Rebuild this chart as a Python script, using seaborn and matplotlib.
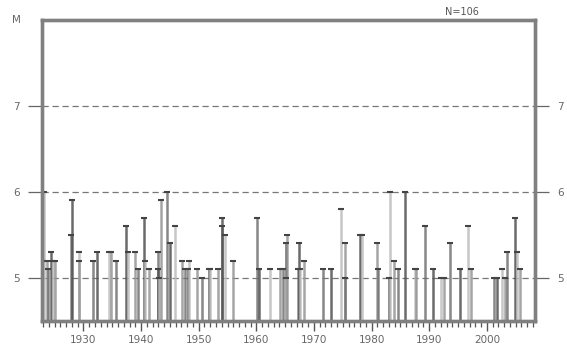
import numpy as np
import pandas as pd
import seaborn as sns
import matplotlib.pyplot as plt
from matplotlib.ticker import MultipleLocator

# events (decimal year, magnitude)
years = [1923.1, 1923.6, 1923.8, 1924.4, 1924.8, 1925.1, 1927.8, 1928.0,
         1929.2, 1929.3, 1931.7, 1932.4, 1934.4, 1934.8, 1935.6, 1937.3,
         1937.7, 1939.0, 1939.5, 1940.5, 1940.7, 1941.3, 1942.9, 1943.0,
         1943.1, 1943.5, 1944.5, 1945.0, 1945.8, 1947.1, 1947.6, 1948.2,
         1948.3, 1949.7, 1950.6, 1951.7, 1952.0, 1953.4, 1954.0, 1954.1,
         1954.6, 1956.0, 1960.1, 1960.5, 1962.4, 1964.1, 1964.6, 1965.1,
         1965.2, 1965.4, 1967.3, 1967.4, 1967.6, 1968.3, 1971.6, 1973.0,
         1974.7, 1975.3, 1975.4, 1978.0, 1978.3, 1980.9, 1981.1, 1983.0,
         1983.2, 1983.9, 1984.5, 1985.8, 1987.5, 1987.7, 1989.3, 1990.7,
         1992.1, 1992.5, 1993.6, 1995.4, 1996.8, 1997.3, 2001.3, 2001.7,
         2002.6, 2003.2, 2003.5, 2004.9, 2005.2, 2005.8]
mags = [6.0, 5.2, 5.1, 5.3, 5.2, 5.2, 5.5, 5.9,
        5.3, 5.2, 5.2, 5.3, 5.3, 5.3, 5.2, 5.6,
        5.3, 5.3, 5.1, 5.7, 5.2, 5.1, 5.3, 5.1,
        5.0, 5.9, 6.0, 5.4, 5.6, 5.2, 5.1, 5.1,
        5.2, 5.1, 5.0, 5.1, 5.1, 5.1, 5.6, 5.7,
        5.5, 5.2, 5.7, 5.1, 5.1, 5.1, 5.1, 5.4,
        5.0, 5.5, 5.1, 5.4, 5.1, 5.2, 5.1, 5.1,
        5.8, 5.4, 5.0, 5.5, 5.5, 5.4, 5.1, 5.0,
        6.0, 5.2, 5.1, 6.0, 5.1, 5.1, 5.6, 5.1,
        5.0, 5.0, 5.4, 5.1, 5.6, 5.1, 5.0, 5.0,
        5.1, 5.0, 5.3, 5.7, 5.3, 5.1]

y_ticks = [5, 6, 7]
y_labels = ["5", "6", "7"]
axis_label = "M"
x_ticks = [1930, 1940, 1950, 1960, 1970, 1980, 1990, 2000]
n_label = "N=106"

df = pd.DataFrame({"year": years, "mag": mags})

sns.set_style("white")
fig = plt.figure(figsize=(5.67, 3.47), dpi=100)
ax = fig.add_axes([0.074, 0.076, 0.870, 0.866])

ymin, ymax = 4.5, 8.0
greys = sns.color_palette("Greys", 7)[2:6]
cols = [greys[i % len(greys)] for i in range(len(df))]
ax.vlines(df["year"], ymin, df["mag"], colors=cols, linewidth=1.8, alpha=0.85, zorder=2)
sns.scatterplot(data=df, x="year", y="mag", ax=ax, marker="_", s=22,
                color="#444444", linewidth=1.5, zorder=3, legend=False)

for yv in y_ticks:
    ax.axhline(yv, color="#777777", linestyle=(0, (5, 3)), linewidth=0.9, zorder=1)

ax.set_xlim(1922.8, 2008.4)
ax.set_ylim(ymin, ymax)
ax.set_xlabel("")
ax.set_ylabel("")

ax.set_xticks(x_ticks)
ax.set_xticklabels([str(v) for v in x_ticks], fontsize=7.5, color="#666666")
ax.xaxis.set_minor_locator(MultipleLocator(1))
ax.tick_params(axis="x", which="both", bottom=True, top=False)
ax.tick_params(axis="x", which="major", direction="out", length=7, width=1,
               color="#555555", pad=3)
ax.tick_params(axis="x", which="minor", direction="out", length=4, width=0.9,
               color="#555555")

ax.set_yticks(y_ticks)
ax.set_yticklabels(y_labels, fontsize=7.5, color="#666666")
ax.tick_params(axis="y", direction="out", length=10, width=0.9, color="#666666",
               left=True, right=False, pad=6)
ax2 = ax.twinx()
ax2.set_ylim(ax.get_ylim())
ax2.set_yticks(y_ticks)
ax2.set_yticklabels(y_labels, fontsize=7.5, color="#666666")
ax2.tick_params(axis="y", direction="out", length=10, width=0.9, color="#666666",
                right=True, pad=6)

for a in (ax, ax2):
    for s in a.spines.values():
        s.set_color("#808080")
        s.set_linewidth(2.4)

ax.text(-0.052, ymax, axis_label, transform=ax.get_yaxis_transform(),
        fontsize=7.5, color="#666666", ha="center", va="center")
ax.text(0.852, 1.012, n_label, transform=ax.transAxes, fontsize=7,
        color="#555555", ha="center", va="bottom")

fig.savefig("out.png", dpi=100)
